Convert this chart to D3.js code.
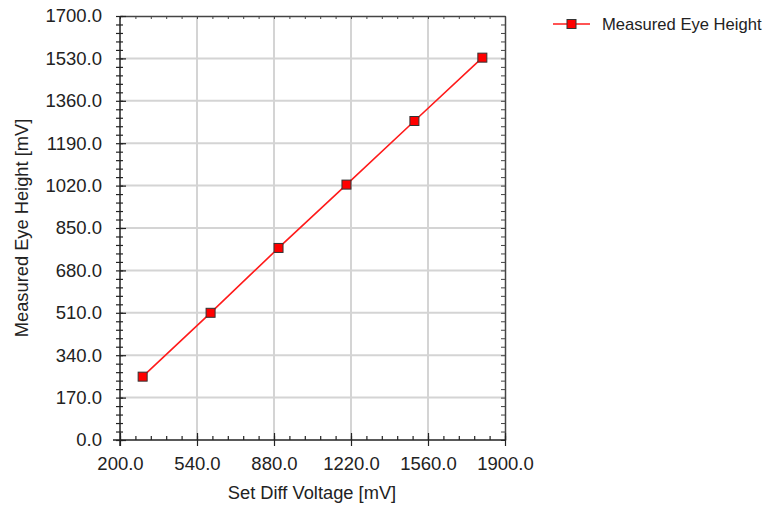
<!DOCTYPE html>
<html>
<head>
<meta charset="utf-8">
<script src="https://cdn.jsdelivr.net/npm/d3@7"></script>
<style>
  body { margin: 0; background: #fff; }
  text { font-family: "Liberation Sans", Arial, sans-serif; fill: #222; }
</style>
</head>
<body>
<div id="chart"></div>
<script>
var width = 776;
var height = 505;

// data
var setVoltage = [300, 600, 900, 1200, 1500, 1800];
var eyeHeight = [254, 510, 770, 1024, 1279, 1533];
var xTicks = [200, 540, 880, 1220, 1560, 1900];
var yTicks = [0, 170, 340, 510, 680, 850, 1020, 1190, 1360, 1530, 1700];
var seriesName = "Measured Eye Height";

var plot = { left: 120, right: 505, top: 16, bottom: 440 };

var svg = d3.select("#chart")
  .append("svg")
  .attr("width", width)
  .attr("height", height);

var xScale = d3.scaleLinear()
  .domain([200, 1900])
  .range([plot.left, plot.right]);

var yScale = d3.scaleLinear()
  .domain([0, 1700])
  .range([plot.bottom, plot.top]);

// minor tick values (5 per major step)
var xMinor = d3.range(200, 1900.1, 68);
var yMinor = d3.range(0, 1700.1, 34);

// grid
svg.append("g")
  .selectAll("line")
  .data(xTicks.slice(1, -1))
  .enter()
  .append("line")
  .attr("x1", d => xScale(d))
  .attr("x2", d => xScale(d))
  .attr("y1", plot.top)
  .attr("y2", plot.bottom)
  .attr("stroke", "#d4d4d4")
  .attr("stroke-width", 2);

svg.append("g")
  .selectAll("line")
  .data(yTicks.slice(1, -1))
  .enter()
  .append("line")
  .attr("x1", plot.left)
  .attr("x2", plot.right)
  .attr("y1", d => yScale(d))
  .attr("y2", d => yScale(d))
  .attr("stroke", "#d4d4d4")
  .attr("stroke-width", 2);

// top and right frame with inward ticks
var topAxis = svg.append("g")
  .attr("transform", "translate(0," + plot.top + ")")
  .call(d3.axisTop(xScale).tickValues(xMinor).tickSizeInner(-3).tickSizeOuter(0).tickFormat(""));
var rightAxis = svg.append("g")
  .attr("transform", "translate(" + plot.right + ",0)")
  .call(d3.axisRight(yScale).tickValues(yMinor).tickSizeInner(-4).tickSizeOuter(0).tickFormat(""));
[topAxis, rightAxis].forEach(function(g) {
  g.select(".domain").attr("stroke", "#444").attr("stroke-width", 1.5);
  g.selectAll(".tick line").attr("stroke", "#444");
});

// bottom axis: minor ticks point up, majors cross the line
var xMinorAxis = svg.append("g")
  .attr("transform", "translate(0," + plot.bottom + ")")
  .call(d3.axisBottom(xScale).tickValues(xMinor).tickSizeInner(-4).tickSizeOuter(0).tickFormat(""));
xMinorAxis.select(".domain").remove();

var xAxis = svg.append("g")
  .attr("transform", "translate(0," + plot.bottom + ")")
  .call(d3.axisBottom(xScale).tickValues(xTicks).tickSizeInner(6).tickSizeOuter(0)
    .tickFormat(d => d.toFixed(1)));
xAxis.selectAll(".tick line").attr("y1", -7);
xAxis.select(".domain").attr("d", "M" + (plot.left - 7) + ",0H" + plot.right);

// left axis: minor ticks cross the line
var yMinorAxis = svg.append("g")
  .attr("transform", "translate(" + (plot.left + 3) + ",0)")
  .call(d3.axisLeft(yScale).tickValues(yMinor).tickSizeInner(7).tickSizeOuter(0).tickFormat(""));
yMinorAxis.select(".domain").remove();

var yAxis = svg.append("g")
  .attr("transform", "translate(" + plot.left + ",0)")
  .call(d3.axisLeft(yScale).tickValues(yTicks).tickSizeInner(5).tickSizeOuter(0)
    .tickFormat(d => d.toFixed(1)));
yAxis.selectAll(".tick line").attr("x2", 6);
yAxis.select(".domain").attr("d", "M0," + plot.top + "V" + (plot.bottom + 6));

[xMinorAxis, xAxis, yMinorAxis, yAxis].forEach(function(g) {
  g.selectAll(".tick line").attr("stroke", "#222").attr("stroke-width", 1.2);
  g.select(".domain").attr("stroke", "#222").attr("stroke-width", 1.5);
});

xAxis.selectAll("text")
  .attr("y", 29.5)
  .attr("dy", 0)
  .attr("font-size", 18.5)
  .style("font-family", "'Liberation Sans', Arial, sans-serif")
  .style("fill", "#222");
yAxis.selectAll("text")
  .attr("x", -18)
  .attr("font-size", 18.5)
  .style("font-family", "'Liberation Sans', Arial, sans-serif")
  .style("fill", "#222");

// series
var points = setVoltage.map((v, i) => ({ x: v, y: eyeHeight[i] }));

var line = d3.line()
  .x(d => xScale(d.x))
  .y(d => yScale(d.y));

svg.append("path")
  .datum(points)
  .attr("d", line)
  .attr("fill", "none")
  .attr("stroke", "#ff1a1a")
  .attr("stroke-width", 1.6);

svg.selectAll(".marker")
  .data(points)
  .enter()
  .append("rect")
  .attr("class", "marker")
  .attr("x", d => xScale(d.x) - 4.5)
  .attr("y", d => yScale(d.y) - 4.5)
  .attr("width", 9)
  .attr("height", 9)
  .attr("fill", "#ff0000")
  .attr("stroke", "#333")
  .attr("stroke-width", 1);

// axis titles
svg.append("text")
  .text("Set Diff Voltage [mV]")
  .attr("x", 312)
  .attr("y", 499)
  .attr("font-size", 18.3)
  .style("text-anchor", "middle");

svg.append("text")
  .text("Measured Eye Height [mV]")
  .attr("transform", "translate(28,228) rotate(-90)")
  .attr("font-size", 18.3)
  .style("text-anchor", "middle");

// legend
var legend = svg.append("g").attr("transform", "translate(553,24)");
legend.append("line")
  .attr("x1", 0).attr("x2", 37)
  .attr("stroke", "#ff1a1a").attr("stroke-width", 1.6);
legend.append("rect")
  .attr("x", 14).attr("y", -4.5)
  .attr("width", 9).attr("height", 9)
  .attr("fill", "#ff0000").attr("stroke", "#333");
legend.append("text")
  .text(seriesName)
  .attr("x", 49)
  .attr("dy", "0.35em")
  .attr("font-size", 16.6);
</script>
</body>
</html>
